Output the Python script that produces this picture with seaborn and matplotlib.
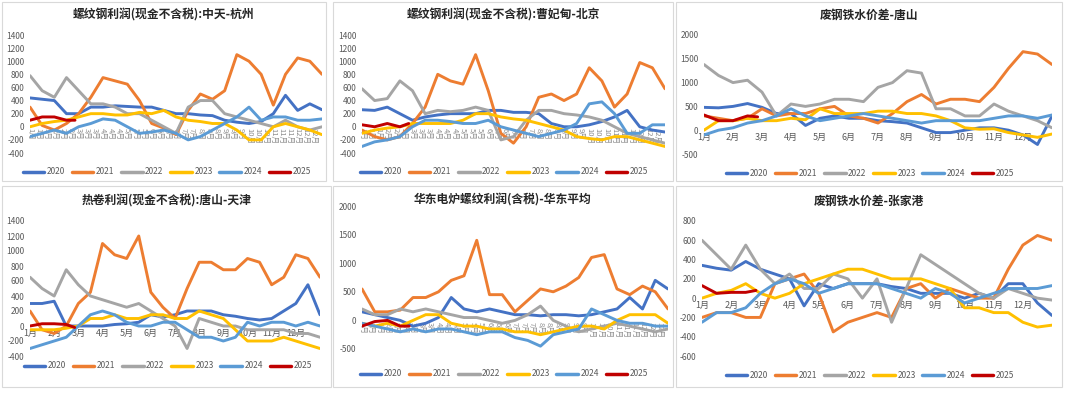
import numpy as np
import pandas as pd
import matplotlib
matplotlib.use('Agg')
import matplotlib.pyplot as plt
import seaborn as sns
from matplotlib.patches import Rectangle
from matplotlib.lines import Line2D

sns.set_theme(style='white')
plt.rcParams['font.family'] = ['Noto Sans CJK SC', 'DejaVu Sans']
plt.rcParams['axes.unicode_minus'] = False

W, H = 1080, 397

years = ['2020', '2021', '2022', '2023', '2024', '2025']
colors = {'2020': '#4472C4', '2021': '#ED7D31', '2022': '#A5A5A5',
          '2023': '#FFC000', '2024': '#5B9BD5', '2025': '#C00000'}

# month position (0 = 1月初), half-month steps; 2025 only up to late Feb
x_full = np.arange(25) * 0.5
x_2025 = [0, 0.5, 1, 1.5, 1.85]

# 螺纹钢利润(现金不含税):中天-杭州
zt_2020 = [440, 420, 400, 200, 200, 300, 300, 320, 310, 300, 300, 250, 200, 200, 180, 170, 100, 70, 50, 80, 200, 480, 250, 350, 260]
zt_2021 = [300, 20, -50, 50, 200, 450, 750, 700, 650, 400, 50, -20, -120, 250, 500, 420, 550, 1100, 1000, 800, 330, 800, 1050, 1000, 800]
zt_2022 = [780, 550, 450, 750, 550, 350, 350, 300, 200, 200, 100, 0, -100, 300, 400, 400, 200, 150, 100, 50, 0, 100, 0, -50, 0]
zt_2023 = [0, 50, 80, 100, 150, 200, 200, 180, 180, 220, 200, 250, 150, 100, 80, 50, 50, -50, -200, -200, 0, 50, 0, -50, -120]
zt_2024 = [-150, -100, -50, -100, 0, 50, 120, 100, 0, -100, -80, -50, -100, -200, -150, -50, 50, 150, 300, 100, 150, 150, 100, 100, 120]
zt_2025 = [100, 150, 150, 100, 100]

# 螺纹钢利润(现金不含税):曹妃甸-北京
cfd_2020 = [260, 250, 300, 200, 100, 150, 180, 200, 200, 200, 250, 250, 220, 220, 200, 50, 0, 0, 30, 80, 150, 250, 0, -50, -80]
cfd_2021 = [-50, -150, -200, -150, 50, 300, 800, 700, 650, 1100, 550, -100, -250, 0, 450, 500, 400, 500, 900, 700, 300, 500, 980, 900, 580]
cfd_2022 = [580, 400, 430, 700, 550, 200, 250, 230, 250, 300, 250, -200, -150, 100, 250, 250, 200, 180, 150, 100, 0, -100, -150, -200, -250]
cfd_2023 = [-100, -50, -20, 0, 50, 50, 50, 50, 100, 200, 200, 150, 120, 100, 50, 0, -50, -150, -180, -200, -150, -150, -200, -250, -300]
cfd_2024 = [-300, -230, -200, -150, 0, 100, 100, 80, 50, 50, 100, 0, -50, -100, -150, -100, -50, 50, 350, 380, 200, -100, -100, 30, 30]
cfd_2025 = [30, 0, 50, 0, 50]

# 废钢铁水价差-唐山
ts_2020 = [480, 470, 500, 560, 480, 350, 350, 100, 250, 300, 250, 250, 200, 180, 150, 50, -50, -50, 0, 50, 50, 0, -100, -300, 300]
ts_2021 = [300, 250, 200, 250, 450, 300, 350, 350, 450, 500, 300, 250, 150, 350, 600, 750, 550, 650, 650, 600, 900, 1300, 1650, 1600, 1380]
ts_2022 = [1380, 1150, 1000, 1050, 800, 300, 550, 500, 550, 650, 650, 600, 900, 1000, 1250, 1200, 450, 450, 300, 300, 550, 400, 300, 200, 50]
ts_2023 = [0, 200, 200, 250, 200, 200, 250, 220, 450, 350, 350, 350, 400, 400, 350, 350, 300, 200, 50, 20, 30, -50, -100, -150, -80]
ts_2024 = [-100, 0, 50, 150, 200, 300, 450, 300, 200, 250, 300, 350, 300, 250, 200, 150, 200, 200, 200, 200, 250, 300, 300, 250, 320]
ts_2025 = [320, 200, 200, 300, 280]

# 热卷利润(现金不含税):唐山-天津
hc_2020 = [300, 300, 330, 0, 0, 0, 0, 20, 30, 50, 150, 120, 150, 200, 200, 200, 150, 130, 100, 80, 100, 200, 300, 550, 150]
hc_2021 = [200, -50, -100, 0, 300, 450, 1100, 950, 900, 1200, 450, 250, 100, 500, 850, 850, 750, 750, 900, 850, 550, 650, 950, 900, 650]
hc_2022 = [650, 500, 400, 750, 550, 400, 350, 300, 250, 300, 200, 100, 0, -300, 100, 50, 0, 0, -50, -50, -50, -50, -100, -100, -150]
hc_2023 = [-50, -50, -50, -30, 0, 100, 100, 150, 100, 100, 150, 150, 100, 100, 200, 150, 100, -50, -200, -200, -200, -150, -200, -250, -300]
hc_2024 = [-300, -250, -200, -150, 0, 150, 200, 150, 50, 0, 0, 50, 50, -50, -150, -150, -200, -150, 50, 0, 50, 50, 0, 50, 0]
hc_2025 = [0, 30, 30, 20, -20]

# 华东电炉螺纹利润(含税)-华东平均
eaf_2020 = [150, 100, 50, 0, -100, -50, 50, 400, 200, 150, 200, 150, 100, 100, 80, 100, 100, 80, 100, 150, 200, 400, 200, 700, 550]
eaf_2021 = [550, 150, 150, 180, 400, 400, 500, 700, 780, 1400, 450, 450, 150, 350, 550, 500, 600, 750, 1100, 1150, 550, 450, 600, 500, 200]
eaf_2022 = [200, 100, 100, 200, 150, 200, 150, 100, 50, 50, 0, -50, 0, 100, 250, 0, -100, -200, -150, -100, -50, -100, -150, -200, -150]
eaf_2023 = [-50, -100, -50, -100, 0, 100, 100, -50, -100, -100, -150, -150, -200, -200, -250, -200, -150, -100, -100, -150, 0, 100, 100, 100, -50]
eaf_2024 = [-50, -100, -150, -200, -150, -200, -150, -150, -200, -250, -200, -200, -300, -350, -450, -250, -200, -150, 200, 100, 0, -50, -50, -100, -100]
eaf_2025 = [-100, -20, 0, -100, -100]

# 废钢铁水价差-张家港
zjg_2020 = [340, 310, 290, 380, 300, 250, 200, -80, 150, 100, 150, 150, 150, 120, 100, 50, 50, 50, 0, 50, 0, 150, 150, -50, -180]
zjg_2021 = [-200, -150, -150, -200, -200, 150, 200, 250, 50, -350, -250, -200, -150, -200, 100, 150, 0, 100, 50, 0, 0, 300, 550, 650, 600]
zjg_2022 = [600, 450, 300, 550, 300, 150, 250, 100, 100, 250, 200, 0, 200, -250, 100, 450, 350, 250, 150, 50, 0, 100, 50, 0, -20]
zjg_2023 = [0, 50, 80, 150, 50, 0, 50, 150, 200, 250, 300, 300, 250, 200, 200, 200, 150, 100, -100, -100, -150, -150, -250, -300, -280]
zjg_2024 = [-250, -150, -150, -100, 50, 150, 200, 150, 50, 100, 150, 150, 150, 100, 50, 0, 100, 50, -50, 0, 50, 100, 100, 100, 130]
zjg_2025 = [130, 50, 60, 60, 80]

# panel specs: title, series, y range, frame box, plot box, legend centre (pixels)
panels = [
    dict(title='螺纹钢利润(现金不含税):中天-杭州',
         data=[zt_2020, zt_2021, zt_2022, zt_2023, zt_2024, zt_2025],
         ylim=(-400, 1400), step=200, dense=True,
         frame=(2, 2, 326, 181), plot=(30, 35, 322, 153), title_y=15, leg=(167, 172)),
    dict(title='螺纹钢利润(现金不含税):曹妃甸-北京',
         data=[cfd_2020, cfd_2021, cfd_2022, cfd_2023, cfd_2024, cfd_2025],
         ylim=(-400, 1400), step=200, dense=True,
         frame=(333, 2, 673, 181), plot=(362, 35, 665, 153), title_y=15, leg=(504, 172)),
    dict(title='废钢铁水价差-唐山',
         data=[ts_2020, ts_2021, ts_2022, ts_2023, ts_2024, ts_2025],
         ylim=(-500, 2000), step=500, dense=False,
         frame=(676, 2, 1062, 181), plot=(704, 35, 1052, 154), title_y=15, leg=(870, 173)),
    dict(title='热卷利润(现金不含税):唐山-天津',
         data=[hc_2020, hc_2021, hc_2022, hc_2023, hc_2024, hc_2025],
         ylim=(-400, 1400), step=200, dense=False,
         frame=(2, 186, 331, 387), plot=(30, 221, 320, 356), title_y=201, leg=(168, 366)),
    dict(title='华东电炉螺纹利润(含税)-华东平均',
         data=[eaf_2020, eaf_2021, eaf_2022, eaf_2023, eaf_2024, eaf_2025],
         ylim=(-500, 2000), step=500, dense=True,
         frame=(333, 186, 673, 387), plot=(362, 206, 668, 349), title_y=200, leg=(504, 374)),
    dict(title='废钢铁水价差-张家港',
         data=[zjg_2020, zjg_2021, zjg_2022, zjg_2023, zjg_2024, zjg_2025],
         ylim=(-600, 800), step=200, dense=False,
         frame=(676, 186, 1062, 387), plot=(702, 221, 1052, 356), title_y=201, leg=(870, 375)),
]

fig = plt.figure(figsize=(W / 100, H / 100), dpi=100)
fig.patch.set_facecolor('white')

for p in panels:
    fx0, fy0, fx1, fy1 = p['frame']
    fig.add_artist(Rectangle((fx0 / W, 1 - fy1 / H), (fx1 - fx0) / W, (fy1 - fy0) / H,
                             transform=fig.transFigure, fill=False,
                             edgecolor='#D9D9D9', linewidth=0.8))

    x0, y0, x1, y1 = p['plot']
    ax = fig.add_axes([x0 / W, 1 - y1 / H, (x1 - x0) / W, (y1 - y0) / H])

    rows = []
    for yr, vals in zip(years, p['data']):
        xs = x_2025 if yr == '2025' else x_full
        rows.append(pd.DataFrame({'month': xs, 'value': vals, 'year': yr}))
    df = pd.concat(rows, ignore_index=True)

    sns.lineplot(data=df, x='month', y='value', hue='year', hue_order=years,
                 palette=colors, linewidth=2.1, legend=False, ax=ax, sort=True)

    ax.set_xlim(0, 12)
    ax.set_ylim(*p['ylim'])
    ax.set_yticks(np.arange(p['ylim'][0], p['ylim'][1] + 1, p['step']))
    ax.tick_params(axis='y', labelsize=6, labelcolor='#595959', length=0, pad=4)
    ax.set_xlabel('')
    ax.set_ylabel('')
    for s in ['top', 'right', 'left']:
        ax.spines[s].set_visible(False)
    ax.spines['bottom'].set_position(('data', 0))
    ax.spines['bottom'].set_color('none')

    if p['dense']:
        ticks = np.arange(0, 12, 1 / 3)
        ax.set_xticks(ticks)
        ax.set_xticklabels([f'{int(t) + 1}月' for t in ticks], rotation=270)
        ax.tick_params(axis='x', labelsize=5.5, labelcolor='#8C8C8C', length=0, pad=1)
    else:
        ax.set_xticks(np.arange(12))
        ax.set_xticklabels([f'{m}月' for m in range(1, 13)])
        ax.tick_params(axis='x', labelsize=6.5, labelcolor='#595959', length=0, pad=2)
    ax.set_facecolor('none')

    fig.text(((fx0 + fx1) / 2) / W, 1 - p['title_y'] / H, p['title'],
             ha='center', va='center', fontsize=8.5, fontweight='bold', color='#262626')

    handles = [Line2D([0], [0], color=colors[y], linewidth=2.5) for y in years]
    ax.legend(handles, years, loc='center', ncol=6, frameon=False,
              bbox_to_anchor=(p['leg'][0] / W, 1 - p['leg'][1] / H),
              bbox_transform=fig.transFigure, fontsize=6, handlelength=2.6,
              handletextpad=0.3, columnspacing=0.8, labelcolor='#595959')

fig.savefig('out.png', dpi=100, facecolor='white')
